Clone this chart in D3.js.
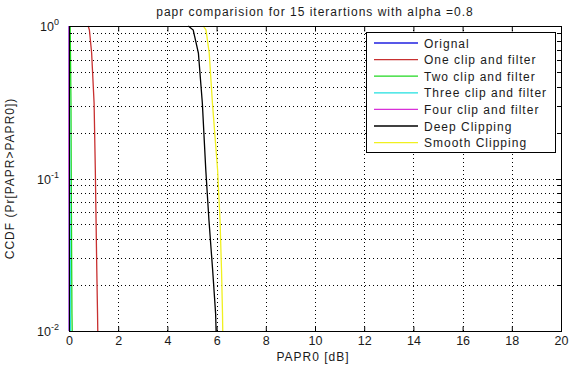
<!DOCTYPE html>
<html><head><meta charset="utf-8">
<script src="https://cdn.jsdelivr.net/npm/d3@7"></script>
<style>
body{margin:0;background:#fff;}
svg{display:block;font-family:"Liberation Sans",Arial,sans-serif;}
</style></head><body>
<svg id="c" width="570" height="367"></svg>
<script>
// Series: CCDF probability levels and PAPR0 values (dB)
const probs = [1.0, 0.94, 0.665, 0.313, 0.114, 0.053, 0.025, 0.013, 0.01];
const original   = [0.01, 0.01, 0.01, 0.01, 0.01, 0.01, 0.01, 0.01, 0.01];
const oneClip    = [0.78, 0.83, 0.92, 1.02, 1.07, 1.10, 1.13, 1.16, 1.17];
const twoClip    = [0.05, 0.05, 0.06, 0.08, 0.09, 0.10, 0.11, 0.12, 0.13];
const threeClip  = [0.01, 0.01, 0.01, 0.02, 0.03, 0.04, 0.05, 0.05, 0.06];
const fourClip   = [0.0, 0.0, 0.0, 0.0, 0.0, 0.01, 0.01, 0.01, 0.01];
const deepClip   = [4.85, 5.05, 5.26, 5.42, 5.56, 5.69, 5.84, 5.96, 5.98];
const smoothClip = [5.46, 5.57, 5.70, 5.83, 6.04, 6.14, 6.20, 6.24, 6.25];
const seriesNames = ["Orignal","One clip and filter","Two clip and filter","Three clip and filter","Four clip and filter","Deep Clipping","Smooth Clipping"];
const seriesColors = ["#2020e0","#c83030","#20d820","#20e0e0","#d830d8","#000000","#f0f020"];
const seriesValues = [original, oneClip, twoClip, threeClip, fourClip, deepClip, smoothClip];
const xTicks = [0,2,4,6,8,10,12,14,16,18,20];
const yMajor = [1, 0.1, 0.01];
const titleText = "papr comparision for 15 iterartions with alpha =0.8";
const xLabel = "PAPR0 [dB]";
const yLabel = "CCDF (Pr[PAPR>PAPR0])";

const svg = d3.select("#c");
const L = 69, R = 561, T = 26, B = 331;
const x = d3.scaleLinear().domain([0,20]).range([L,R]);
const y = d3.scaleLog().domain([0.01,1]).range([B,T]);
const txt = "#1a1a1a";

// grid
const yMinor = [];
[0.01,0.1].forEach(d => { for (let k=2;k<=9;k++) yMinor.push(d*k); });
const g = svg.append("g");
xTicks.slice(1,-1).forEach(v => {
  const xx = Math.round(x(v))+0.5;
  g.append("line").attr("x1",xx).attr("x2",xx).attr("y1",T).attr("y2",B)
   .attr("stroke","#000").attr("stroke-width",1).attr("stroke-dasharray","1,3");
});
yMinor.concat([0.1]).forEach(v => {
  const yy = Math.round(y(v))+0.5;
  g.append("line").attr("x1",L).attr("x2",R).attr("y1",yy).attr("y2",yy)
   .attr("stroke","#000").attr("stroke-width",1).attr("stroke-dasharray","1,3");
});

// curves
const line = d3.line().x(d => x(d[0])).y(d => y(d[1]));
seriesValues.forEach((vals,i) => {
  svg.append("path").datum(vals.map((v,j)=>[v,probs[j]]))
    .attr("d",line).attr("fill","none").attr("stroke",seriesColors[i]).attr("stroke-width",1.3);
});

// axes box
svg.append("rect").attr("x",L+0.5).attr("y",T+0.5).attr("width",R-L).attr("height",B-T)
  .attr("fill","none").attr("stroke","#000").attr("stroke-width",1);

// x ticks (inward top & bottom)
const axB = svg.append("g").attr("transform",`translate(0,${B+0.5})`)
  .call(d3.axisBottom(x).tickValues(xTicks).tickSize(-5).tickPadding(5).tickFormat(d3.format("d")));
const axT = svg.append("g").attr("transform",`translate(0,${T+0.5})`)
  .call(d3.axisTop(x).tickValues(xTicks).tickSize(-5).tickFormat(""));
[axB,axT].forEach(a => { a.select(".domain").remove(); a.selectAll("line").attr("stroke","#000"); });
axB.selectAll("text").attr("font-size",12.5).attr("fill",txt).attr("font-family","Liberation Sans, Arial, sans-serif");

// y ticks (major and minor, inward left & right)
const allY = yMajor.concat(yMinor);
allY.forEach(v => {
  const len = yMajor.includes(v) ? 5 : 3;
  const yy = Math.round(y(v))+0.5;
  svg.append("line").attr("x1",L).attr("x2",L+len).attr("y1",yy).attr("y2",yy).attr("stroke","#000");
  svg.append("line").attr("x1",R-len).attr("x2",R).attr("y1",yy).attr("y2",yy).attr("stroke","#000");
});
yMajor.forEach(v => {
  const exp = Math.round(Math.log10(v));
  const t = svg.append("text").attr("x",L-10).attr("y",y(v)+5).attr("text-anchor","end")
    .attr("font-size",12.5).attr("fill",txt);
  t.append("tspan").text("10");
  t.append("tspan").attr("dy",-6).attr("font-size",9).text(String(exp));
});

// labels
svg.append("text").attr("x",315).attr("y",16).attr("text-anchor","middle").attr("letter-spacing",1)
  .attr("font-size",12).attr("fill",txt).text(titleText);
svg.append("text").attr("x",313).attr("y",361).attr("text-anchor","middle").attr("letter-spacing",1)
  .attr("font-size",12).attr("fill",txt).text(xLabel);
svg.append("text").attr("transform",`translate(14,${(T+B)/2}) rotate(-90)`).attr("text-anchor","middle")
  .attr("letter-spacing",1).attr("font-size",12).attr("fill",txt).text(yLabel);

// legend
const lg = svg.append("g");
lg.append("rect").attr("x",366.5).attr("y",32.5).attr("width",189).attr("height",120)
  .attr("fill","#fff").attr("stroke","#000");
seriesNames.forEach((n,i) => {
  const yy = 43 + i*16.6;
  lg.append("line").attr("x1",374).attr("x2",418).attr("y1",yy).attr("y2",yy)
    .attr("stroke",seriesColors[i]).attr("stroke-width",1.3);
  lg.append("text").attr("x",424).attr("y",yy+4.5).attr("font-size",12).attr("letter-spacing",1)
    .attr("fill",txt).text(n);
});
</script>
</body></html>
